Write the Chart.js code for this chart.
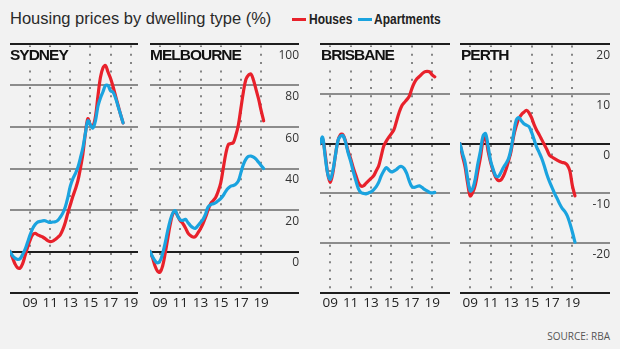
<!DOCTYPE html>
<html>
<head>
<meta charset="utf-8">
<script src="https://cdn.jsdelivr.net/npm/chart.js@4.4.1/dist/chart.umd.min.js"></script>
<style>
  html, body { margin: 0; padding: 0; background: #f2f2f2; }
  body { width: 620px; height: 349px; position: relative; overflow: hidden; font-family: "Liberation Sans", Arial, sans-serif; color: #222; }
  canvas { position: absolute; top: 36px; }
  .title { position: absolute; left: 10px; top: 10px; font-size: 16.5px; line-height: 1; white-space: nowrap; color: #2a2a2a; }
  .key { position: absolute; top: 11.3px; font-weight: bold; font-size: 15px; line-height: 1; white-space: nowrap; transform: scaleX(0.8); transform-origin: 0 0; }
  .dash { position: absolute; top: 17.5px; width: 14px; height: 3px; }
  .city { position: absolute; top: 47.3px; font-weight: bold; font-size: 15.5px; letter-spacing: -1px; line-height: 1; padding: 0 4px 2px 0; background: #f2f2f2; color: #111; }
  .source { position: absolute; right: 10px; top: 330.5px; font-family: "Open Sans", sans-serif; font-size: 10px; line-height: 1; color: #555; }
</style>
</head>
<body>
<div class="title">Housing prices by dwelling type (%)</div>
<div class="dash" style="left:292px;background:#e8212b"></div>
<div class="key" style="left:309px">Houses</div>
<div class="dash" style="left:358px;background:#1aa3df"></div>
<div class="key" style="left:374px">Apartments</div>

<canvas id="sydney" width="133" height="286" style="left:8px"></canvas>
<canvas id="melbourne" width="153" height="286" style="left:148px"></canvas>
<canvas id="brisbane" width="134" height="286" style="left:318px"></canvas>
<canvas id="perth" width="154" height="286" style="left:458px"></canvas>

<div class="city" style="left:10px">SYDNEY</div>
<div class="city" style="left:150px">MELBOURNE</div>
<div class="city" style="left:321px">BRISBANE</div>
<div class="city" style="left:461px">PERTH</div>
<div class="source">SOURCE: RBA</div>

<script>
// quarters, 2008 Q1 to 2019 Q2
const quarters = [2008, 2008.25, 2008.5, 2008.75, 2009, 2009.25, 2009.5, 2009.75,
  2010, 2010.25, 2010.5, 2010.75, 2011, 2011.25, 2011.5, 2011.75,
  2012, 2012.25, 2012.5, 2012.75, 2013, 2013.25, 2013.5, 2013.75,
  2014, 2014.25, 2014.5, 2014.75, 2015, 2015.25, 2015.5, 2015.75,
  2016, 2016.25, 2016.5, 2016.75, 2017, 2017.25, 2017.5, 2017.75,
  2018, 2018.25, 2018.5, 2018.75, 2019, 2019.25];
const yearTicks = [2009, 2011, 2013, 2015, 2017, 2019];
const bigCityTicks = [-20, 0, 20, 40, 60, 80, 100];
const smallCityTicks = [-30, -20, -10, 0, 10, 20];

const sydneyHouses = [0, -3, -6, -7.8, -8, -6, -2, 2, 5.5, 8,
  8.8, 8, 7.5, 7, 6.2, 5.2, 4.8, 5, 5.8, 6.8,
  8, 10.5, 14, 18.5, 22.5, 26.5, 30, 34, 40, 47,
  57, 64, 61, 60.5, 65, 75, 84, 88.5, 89.6, 86.5,
  83.5, 79.5, 75, 70.5, 66, 62];
const sydneyApartments = [0, -2, -3.2, -3.8, -3.5, -1.5, 1, 4.5, 8, 11,
  13, 14.2, 14.5, 14.8, 14.8, 14.3, 14, 14.2, 14.3, 15,
  16.5, 18.5, 21.5, 26, 31.5, 35, 37.5, 40.5, 45, 50,
  57, 63, 61, 59.5, 63, 70, 74, 77, 80, 80,
  77.5, 76.8, 74, 70, 66, 62];

const melbourneHouses = [0, -3, -7, -9.5, -10, -7, -1, 6, 13, 18,
  19, 17, 14.8, 13.5, 11.5, 9, 7.7, 7, 7.2, 9,
  11, 13.5, 16.5, 20, 23, 24.5, 26, 29, 33, 40,
  47, 51.5, 52, 52.5, 56, 61, 69, 77, 83, 85,
  85.5, 82.5, 78, 73.5, 68, 63];
const melbourneApartments = [0, -2.5, -4.5, -5.5, -4.5, -1, 4, 10, 15, 18.5,
  19.7, 17, 15.2, 15, 15.5, 14, 12.5, 11.5, 11.2, 12.5,
  14, 15.5, 18, 21.5, 22.5, 23, 23.5, 24.5, 25.5, 27,
  29, 30.5, 31.5, 31.8, 32.5, 34, 38, 42, 44.5, 45.8,
  46, 45.5, 44.5, 43, 41.5, 40];

const brisbaneHouses = [0, 1, -2, -6, -7.8, -6, -2.5, 0.5, 1.8, 1.8,
  0.5, -1.5, -3, -4.8, -6.3, -7.8, -8.5, -8.5, -8, -7.5,
  -7, -6.5, -5.5, -4.5, -2.5, -0.5, 0.5, 1.3, 2, 2.8,
  4.5, 6.2, 7.5, 8.2, 8.8, 9.5, 11, 12.2, 13, 13.5,
  14, 14.4, 14.5, 14.4, 13.8, 13.4];
const brisbaneApartments = [0, 1.3, -2.5, -6, -7.2, -5.5, -2.5, 0.5, 1.5, 1.6,
  0.3, -1.8, -3.5, -5.5, -7.3, -9, -9.8, -10, -10.1, -9.9,
  -9.7, -9.3, -8.7, -7.8, -6.5, -5.5, -4.8, -5.3, -5.7, -5.5,
  -5.2, -4.7, -4.6, -5, -6, -7.5, -8.6, -8.8, -8.6, -8.5,
  -8.8, -9.2, -9.5, -9.8, -9.9, -9.8];

const perthHouses = [0, -2.5, -4.7, -8, -10.5, -9.8, -8.3, -5.5, -2.8, 0.5,
  1.2, -1.5, -3.8, -5.5, -6.8, -7.4, -7.3, -6.5, -5.2, -3.5,
  -1.5, 1.5, 3.5, 5, 5.8, 6.3, 6.7, 6.2, 5.2, 3.8,
  2.7, 1.8, 0.8, -0.2, -1.2, -2.3, -2.7, -3, -3.3, -3.6,
  -3.8, -3.9, -4.3, -5.5, -8.5, -10.5];
const perthApartments = [0, -2, -3.8, -7, -9.5, -9, -7, -4, -1.5, 1.5,
  2, -0.5, -3.5, -5.2, -6.5, -6.6, -5.8, -4.8, -4, -3,
  -1, 2, 4.7, 5.2, 4.6, 4, 3.7, 3.4, 2.3, 0.8,
  -0.7, -1.8, -3, -4.5, -6.2, -7.6, -8.8, -10, -11, -12.1,
  -13, -13.6, -14.5, -16, -17.8, -19.8];

const RED = '#e8212b';
const BLUE = '#1aa3df';

function pairs(vals) {
  return vals.map((v, i) => ({x: quarters[i], y: v}));
}

function panel(id, p) {
  const yMin = p.yTicks[0], yMax = p.yTicks[p.yTicks.length - 1];
  return new Chart(document.getElementById(id), {
    type: 'line',
    data: {
      datasets: [
        {label: 'Apartments', data: pairs(p.apartments), borderColor: BLUE, xAxisID: 'xd'},
        {label: 'Houses', data: pairs(p.houses), borderColor: RED, xAxisID: 'xd'}
      ]
    },
    options: {
      responsive: false,
      animation: false,
      devicePixelRatio: 1,
      layout: {padding: {left: 2, right: 2, top: 8, bottom: 0}},
      elements: {
        point: {radius: 0},
        line: {borderWidth: 3.2, tension: 0.35, borderCapStyle: 'round', borderJoinStyle: 'round'}
      },
      plugins: {legend: {display: false}, tooltip: {enabled: false}},
      scales: {
        xd: {type: 'linear', display: false, min: p.dataMin, max: p.dataMax},
        x: {
          type: 'linear', position: 'bottom', min: p.tickMin, max: p.tickMax,
          afterBuildTicks: s => { s.ticks = yearTicks.map(v => ({value: v})); },
          afterFit: s => { s.height = 29; },
          border: {display: false, dash: [2, 6.3], dashOffset: 6.8},
          grid: {color: '#858585', lineWidth: 2, drawTicks: false},
          ticks: {
            autoSkip: false, maxRotation: 0, padding: 2.5, color: '#222',
            font: {family: 'Open Sans', size: 13.5},
            callback: v => String(v).slice(2)
          }
        },
        y: {
          position: 'right', min: yMin, max: yMax,
          afterBuildTicks: s => { s.ticks = p.yTicks.map(v => ({value: v})); },
          afterFit: s => { s.width = 0; },
          border: {display: false},
          grid: {
            lineWidth: 2, drawTicks: false,
            color: c => (c.tick.value === 0 || c.tick.value === yMin || c.tick.value === yMax) ? '#1e1e1e' : '#8c8c8c'
          },
          ticks: {
            display: p.labels, mirror: true, padding: 0, labelOffset: 11.5, color: '#333',
            font: {family: 'Open Sans', size: 12},
            callback: v => v === yMin ? '' : v
          }
        }
      }
    }
  });
}

// Sydney's year labels sit one year to the right of its data in the original
panel('sydney', {houses: sydneyHouses, apartments: sydneyApartments, yTicks: bigCityTicks, labels: false,
  dataMin: 2008, dataMax: 2008 + 129 / 10.1, tickMin: 2007, tickMax: 2007 + 129 / 10.1});
panel('melbourne', {houses: melbourneHouses, apartments: melbourneApartments, yTicks: bigCityTicks, labels: true,
  dataMin: 2008, dataMax: 2008 + 149 / 10.1, tickMin: 2008, tickMax: 2008 + 149 / 10.1});
panel('brisbane', {houses: brisbaneHouses, apartments: brisbaneApartments, yTicks: smallCityTicks, labels: false,
  dataMin: 2008, dataMax: 2008 + 130 / 10.2, tickMin: 2008, tickMax: 2008 + 130 / 10.2});
panel('perth', {houses: perthHouses, apartments: perthApartments, yTicks: smallCityTicks, labels: true,
  dataMin: 2008, dataMax: 2008 + 150 / 10.22, tickMin: 2008, tickMax: 2008 + 150 / 10.22});
</script>
</body>
</html>
